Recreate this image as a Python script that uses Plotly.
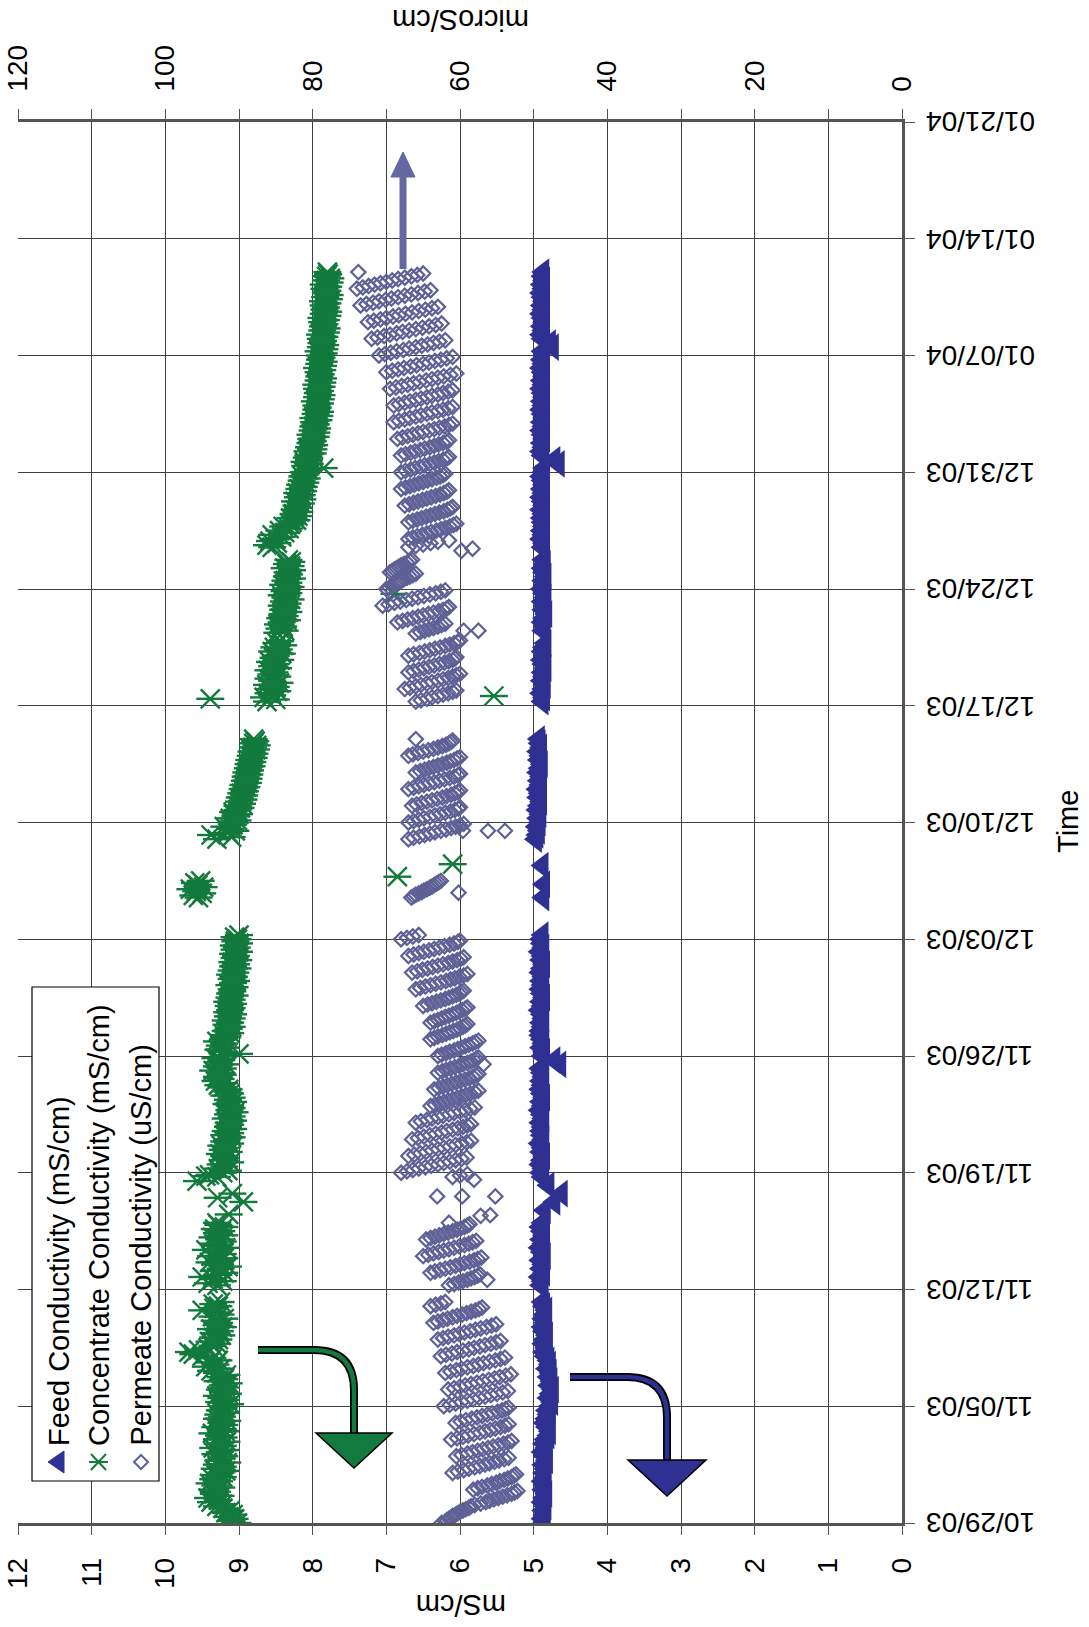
import pandas as pd
import plotly.graph_objects as go

# ---------------- data ----------------
# Run segments of the logger; readings inside a segment are evenly spaced.
segment_starts = ["2003-10-29 00:00", "2003-11-12 06:00", "2003-11-18 18:00",
                  "2003-12-05 12:00", "2003-12-09 00:00", "2003-12-17 06:00",
                  "2003-12-26 12:00"]
FEED_STEP = "6h"
CONC_STEP = "3h"
PERM_STEP = "2h"

# Feed conductivity, mS/cm (6-hourly)
feed_segments = [
    [4.86, 4.88, 4.85, 4.87, 4.84, 4.88, 4.86, 4.83, 4.87, 4.85, 4.88, 4.84,
     4.86, 4.84, 4.87, 4.82, 4.85, 4.88, 4.83, 4.86, 4.84, 4.80, 4.78, 4.82, 4.85, 4.83, 4.80, 4.82,
     4.78, 4.75, 4.80, 4.77, 4.74, 4.79, 4.76, 4.80, 4.77, 4.82, 4.78, 4.80,
     4.84, 4.86, 4.83, 4.87, 4.85, 4.82, 4.86, 4.88, 4.84, 4.87, 4.85, 4.83, 4.86, 4.88],
    [4.90, 4.88, 4.92, 4.86, 4.90, 4.87, 4.91, 4.85, 4.89, 4.92, 4.87, 4.90, 4.86, 4.89, 4.91, 4.88],
    [4.88, 4.90, 4.87, 4.91, 4.89, 4.86, 4.90, 4.88, 4.92, 4.87, 4.89,
     4.90, 4.88, 4.91, 4.87, 4.89, 4.92, 4.88, 4.90, 4.86, 4.89, 4.91, 4.88,
     4.90, 4.87, 4.89, 4.91, 4.64, 4.72, 4.88, 4.86, 4.90, 4.87, 4.89, 4.91,
     4.91, 4.88, 4.90, 4.87, 4.89, 4.92, 4.88, 4.90, 4.86, 4.89, 4.91,
     4.88, 4.90, 4.87, 4.91, 4.89, 4.86, 4.90, 4.88, 4.92, 4.87, 4.89, 4.90, 4.88],
    [],
    [4.97, 4.95, 4.93, 4.96, 4.92, 4.94, 4.91, 4.95, 4.93, 4.90, 4.94, 4.92, 4.95,
     4.91, 4.93, 4.90, 4.94, 4.92, 4.89, 4.93, 4.91, 4.94, 4.90, 4.92, 4.93],
    [4.88, 4.86, 4.90, 4.87, 4.85, 4.89, 4.86, 4.88, 4.84, 4.87, 4.89, 4.85, 4.88, 4.86, 4.84,
     None, None,
     4.87, 4.85, 4.88, 4.86, 4.83, 4.87, 4.85, 4.88, 4.84, 4.86, 4.89, 4.85, 4.87, 4.84, 4.86,
     4.88, 4.85, 4.87],
    [4.88, 4.86, 4.90, 4.87, 4.89, 4.86, 4.88,
     4.89, 4.87, 4.90, 4.86, 4.88, 4.90, 4.87, 4.89, 4.86, 4.88, 4.90, 4.87,
     4.86, 4.66, 4.72, 4.88, 4.90, 4.87, 4.89, 4.86, 4.88, 4.90, 4.87, 4.89, 4.86,
     4.88, 4.90, 4.87, 4.89, 4.86, 4.88, 4.90, 4.87, 4.89, 4.86, 4.88, 4.90, 4.87, 4.89, 4.86, 4.88,
     4.74, 4.78, 4.88, 4.90, 4.87, 4.89, 4.86, 4.88, 4.90, 4.87, 4.89, 4.86, 4.88, 4.90, 4.87,
     4.89, 4.86, 4.88, 4.87],
]
feed_extra_times = ["2003-11-16 18:00", "2003-11-17 06:00", "2003-11-17 18:00", "2003-11-18 06:00",
                    "2003-12-05 12:00", "2003-12-06 07:00", "2003-12-07 10:00"]
feed_extra_values = [4.85, 4.72, 4.62, 4.80, 4.87, 4.86, 4.88]

# Concentrate conductivity, mS/cm (3-hourly)
conc_segments = [
    [9.02, 9.10, 9.06, 9.14, 9.08, 9.18, 9.12, 9.22,
     9.30, 9.22, 9.38, 9.28, 9.42, 9.25, 9.34, 9.30,
     9.36, 9.24, 9.32, 9.40, 9.27, 9.35, 9.22, 9.31,
     9.25, 9.18, 9.33, 9.22, 9.30, 9.16, 9.28, 9.24,
     9.20, 9.32, 9.26, 9.18, 9.35, 9.22, 9.29, 9.17,
     9.30, 9.21, 9.27, 9.36, 9.19, 9.25, 9.32, 9.20,
     9.24, 9.16, 9.30, 9.23, 9.28, 9.18, 9.26, 9.21,
     9.20, 9.12, 9.27, 9.18, 9.24, 9.30, 9.15, 9.22,
     9.26, 9.18, 9.22, 9.14, 9.29, 9.20, 9.25, 9.17,
     9.30, 9.38, 9.25, 9.45, 9.32, 9.40, 9.28, 9.36,
     9.50, 9.62, 9.68, 9.55, 9.42, 9.36, 9.30, 9.40,
     9.28, 9.35, 9.24, 9.32, 9.26, 9.38, 9.22, 9.30,
     9.27, 9.33, 9.20, 9.36, 9.25, 9.30, 9.50, 9.34,
     9.28, 9.35, 9.25],
    [9.30, 9.42, 9.22, 9.35, 9.50, 9.28, 9.20, 9.33, 9.25, 9.15, 9.32, 9.40, 9.26, 9.20, 9.38,
     9.22, 9.30, 9.45, 9.18, 9.28, 9.34, 9.22, 9.27, 9.36, 9.20, 9.30, 9.24, 9.33, 9.20, 9.28, 9.30],
    [9.30, 9.40,
     9.22, 9.15, 9.28, 9.20, 9.25, 9.12, 9.22, 9.18,
     9.20, 9.26, 9.14, 9.22, 9.17, 9.24, 9.12, 9.20,
     9.16, 9.10, 9.20, 9.12, 9.18, 9.08, 9.15, 9.12,
     9.14, 9.08, 9.18, 9.10, 9.15, 9.06, 9.13, 9.10,
     9.12, 9.17, 9.08, 9.15, 9.10, 9.20, 9.12, 9.16,
     9.14, 9.22, 9.28, 9.20, 9.32, 9.25, 9.30, 9.22,
     9.26, 9.35, 9.22, 9.30, 9.18, 9.28, 9.24, 9.32,
     9.20, 9.00, 9.22, 9.28, 9.18, 9.26, 9.20, 9.30,
     9.22, 9.16, 9.20, 9.12, 9.18, 9.14, 9.10, 9.17,
     9.12, 9.18, 9.10, 9.15, 9.08, 9.16, 9.12, 9.10,
     9.14, 9.08, 9.16, 9.10, 9.13, 9.06, 9.12, 9.09,
     9.10, 9.06, 9.13, 9.08, 9.04, 9.10, 9.07, 9.12,
     9.05, 9.10, 9.02, 9.08, 9.04, 9.09, 9.01, 9.06,
     9.04, 9.08, 9.00, 9.06, 9.03, 9.07, 9.00, 9.05,
     9.02, 9.06, 9.00],
    [9.55, 9.62, 9.50, 9.58, 9.66, 9.48, 9.56, 9.60, 9.52],
    [9.30, 9.10, 9.38, 9.15, 9.05, 9.12, 9.20, 9.08,
     9.10, 9.02, 9.12, 9.05, 9.00, 9.08, 9.02, 8.98,
     9.02, 8.96, 9.00, 8.94, 8.99, 8.93, 8.97, 8.92,
     8.95, 8.90, 8.94, 8.88, 8.92, 8.87, 8.91, 8.86,
     8.90, 8.85, 8.88, 8.83, 8.87, 8.82, 8.86, 8.80,
     8.84, 8.79, 8.83, 8.77, 8.81, 8.76, 8.80, 8.78,
     8.80],
    [8.62, 8.50, 8.66, 8.55, 8.60, 8.48,
     8.58, 8.50, 8.62, 8.45, 8.55, 8.60, 8.48, 8.56,
     8.52, 8.60, 8.47, 8.55, 8.50, 8.58, 8.44, 8.53,
     8.50, 8.42, 8.55, 8.46, 8.52, 8.40, 8.48, 8.44,
     None, None, None, 8.48, 8.38, 8.45, 8.40, 8.47,
     8.42, 8.35, 8.44, 8.38, 8.41, 8.33, 8.40, 8.36,
     8.42, 8.34, 8.39, 8.30, 8.37, 8.42, 8.33, 8.38,
     8.36, 8.30, 8.40, 8.33, 8.37, 8.28, 8.35, 8.32,
     8.34, 8.28, 8.38, 8.30, 8.35, 8.29, 8.33],
    [8.55, 8.62, 8.48, 8.58,
     8.50, 8.42, 8.55, 8.38, 8.45, 8.32, 8.40, 8.30,
     8.28, 8.22, 8.30, 8.20, 8.26, 8.18, 8.24, 8.20,
     8.22, 8.16, 8.24, 8.14, 8.20, 8.15, 8.21, 8.13,
     8.18, 8.12, 8.17, 8.10, 8.15, 8.08, 8.14, 8.10,
     8.12, 8.06, 7.85, 8.10, 8.04, 8.11, 8.05, 8.08,
     8.06, 8.00, 8.07, 7.99, 8.05, 7.98, 8.03, 8.00,
     8.02, 7.96, 8.03, 7.95, 8.00, 7.94, 7.99, 7.96,
     7.98, 7.92, 7.99, 7.91, 7.96, 7.90, 7.95, 7.93,
     7.95, 7.90, 7.97, 7.89, 7.94, 7.88, 7.93, 7.90,
     7.94, 7.88, 7.95, 7.87, 7.92, 7.86, 7.91, 7.89,
     7.92, 7.87, 7.94, 7.86, 7.91, 7.85, 7.90, 7.88,
     7.90, 7.85, 7.92, 7.84, 7.89, 7.83, 7.88, 7.86,
     7.89, 7.84, 7.90, 7.82, 7.87, 7.81, 7.86, 7.84,
     7.87, 7.82, 7.88, 7.80, 7.85, 7.79, 7.84, 7.82,
     7.85, 7.80, 7.86, 7.78, 7.83, 7.77, 7.82, 7.80,
     7.84, 7.79, 7.85, 7.77, 7.82, 7.76, 7.81, 7.79,
     7.80],
]
conc_extra_times = ["2003-11-16 12:00", "2003-11-17 06:00", "2003-11-17 12:00", "2003-11-17 18:00",
                    "2003-11-18 12:00", "2003-11-18 19:00", "2003-12-06 18:00", "2003-12-07 12:00",
                    "2003-12-17 10:00", "2003-12-17 14:00", "2003-12-23 17:00"]
conc_extra_values = [9.14, 8.94, 9.29, 9.09, 9.57, 9.45, 6.85, 6.10, 9.39, 5.54, 6.89]

# Permeate conductivity, uS/cm (2-hourly, daily cycle)
perm_segments = [
    [62.5, 62, 61.8, 61.5, 61.2, 61, 60.6, 60.3, 60, 59.6, 59.2, 58.8,
     58.5, 58, 57.2, 56.5, 56, 55.4, 54.8, 54.2, 53.6, 53, 52.6, 52.2,
     58.2, 57.6, 57, 56.3, 55.7, 55.1, 54.6, 54, 53.5, 53, 52.7, 52.4,
     61, 60.3, 59.5, 58.8, 58, 57.3, 56.6, 56, 55.3, 54.7, 54, 53.4,
     60.5, 59.8, 59, 58.3, 57.6, 56.9, 56.2, 55.5, 54.8, 54.1, 53.5, 53,
     61.2, 60.4, 59.6, 58.9, 58.1, 57.3, 56.6, 55.9, 55.2, 54.5, 53.9, 53.4,
     60.6, 59.9, 59.2, 58.4, 57.7, 57, 56.3, 55.6, 54.9, 54.3, 53.8, 53.4,
     62.2, 61.4, 60.6, 59.8, 59, 58.2, 57.4, 56.6, 55.8, 55, 54.2, 53.5,
     61.6, 60.8, 60, 59.3, 58.5, 57.7, 56.9, 56.1, 55.3, 54.6, 53.8, 53.1,
     62, 61.3, 60.5, 59.8, 59, 58.2, 57.5, 56.8, 56, 55.2, 54.5, 53.9,
     62.6, 61.9, 61.1, 60.4, 59.6, 58.8, 58.1, 57.3, 56.6, 55.8, 55.1, 54.5,
     63, 62.3, 61.6, 60.8, 60.1, 59.4, 58.6, 57.9, 57.2, 56.4, 55.7, 55.1,
     63.6, 63, 62.3, 61.7, 61, 60.4, 59.7, 59.1, 58.5, 57.9, 57.4, 57,
     64, 63.3, 62.6, 62],
    [61.5, 60.8, 60.2, 59.6, 59, 58.5, 58, 57.6, 57.3,
     64, 63.4, 62.7, 62, 61.3, 60.6, 60, 59.4, 58.7, 58.1, 57.6, 57.1,
     65, 64.3, 63.6, 62.9, 62.2, 61.5, 60.8, 60.1, 59.4, 58.8, 58.3, 57.8,
     64.6, 64, 63.4, 62.8, 62.2, 61.6, 61, 60.4, 59.9, 59.4, 59, 58.7,
     61.5],
    [61, 60, 59,
     68, 67.2, 66.4, 65.6, 64.7, 63.9, 63, 62.2, 61.4, 60.6, 59.8, 59.1,
     67, 66.2, 65.4, 64.6, 63.8, 63, 62.2, 61.4, 60.6, 59.8, 59.1, 58.5,
     66.5, 65.7, 64.9, 64.1, 63.3, 62.5, 61.8, 61, 60.3, 59.6, 59, 58.5,
     66, 65.3, 64.5, 63.8, 63, 62.3, 61.5, 60.8, 60, 59.3, 58.6, 58,
     64, 63.4, 62.8, 62.2, 61.6, 61, 60.4, 59.8, 59.2, 58.6, 58, 57.5,
     63.5, 62.9, 62.3, 61.7, 61.1, 60.5, 59.9, 59.3, 58.7, 58.2, 57.8, 57.5,
     63, 62.4, 61.9, 61.3, 60.7, 60.1, 59.6, 59, 58.5, 58.1, 57.8, 57.5,
     63, 62.5, 61.9, 61.4, 60.8, 60.3, 59.8, 59.3, 58.8, 58.3, 57.9, 57.5,
     64, 63.5, 63, 62.4, 61.9, 61.4, 60.9, 60.4, 60, 59.6, 59.3, 59,
     64, 63.5, 63, 62.5, 62, 61.5, 61, 60.5, 60.1, 59.7, 59.3, 59,
     65, 64.4, 63.8, 63.2, 62.6, 62, 61.5, 61, 60.5, 60.1, 59.8, 59.5,
     66, 65.4, 64.7, 64, 63.3, 62.6, 61.9, 61.3, 60.7, 60.1, 59.5, 59,
     66.5, 65.8, 65.1, 64.4, 63.7, 63, 62.3, 61.6, 61, 60.4, 59.9, 59.5,
     67, 66.3, 65.6, 64.9, 64.2, 63.5, 62.8, 62.1, 61.4, 60.8, 60.3, 60,
     68, 67.2, 66.4, 65.6],
    [66.6, 66.3, 66, 65.6, 65.2, 64.9, 64.5, 64.1, 63.8, 63.5, 63.2, 62.9, 62.6],
    [67, 66.3, 65.5, 64.8, 64.1, 63.4, 62.6, 61.9, 61.2, 60.6, 60, 59.5,
     67, 66.3, 65.6, 64.9, 64.1, 63.4, 62.7, 62, 61.3, 60.7, 60.2, 60,
     66.5, 65.9, 65.2, 64.5, 63.8, 63.1, 62.4, 61.8, 61.2, 60.7, 60.3, 60,
     67, 66.3, 65.6, 64.9, 64.2, 63.5, 62.8, 62.1, 61.4, 60.8, 60.3, 60,
     66, 65.4, 64.8, 64.2, 63.6, 63, 62.4, 61.8, 61.3, 60.8, 60.4, 60,
     67, 66.4, 65.7, 65, 64.3, 63.6, 63, 62.4, 61.9, 61.5, 61.2, 61,
     66],
    [66, 65.3, 64.5, 63.8, 63, 62.3, 61.6, 61, 60.5,
     67.5, 66.8, 66, 65.3, 64.5, 63.8, 63, 62.3, 61.6, 61, 60.5, 60,
     67, 66.3, 65.6, 64.9, 64.2, 63.5, 62.8, 62.1, 61.5, 61, 60.7, 60.5,
     67, 66.3, 65.5, 64.8, 64.1, 63.4, 62.7, 62, 61.4, 60.8, 60.3, 60,
     None, None, None, None, 66, 65.4, 64.8, 64.2, 63.6, 63, 62.5, 62,
     68.5, 67.8, 67.1, 66.4, 65.7, 65, 64.3, 63.6, 62.9, 62.3, 61.8, 61.5,
     70.5, 69.7, 68.9, 68.1, 67.3, 66.5, 65.7, 64.9, 64.1, 63.3, 62.6, 62,
     70, 69.6, 69.2, 68.8, 68.5, 68.2, 67.9, 67.6, 67.2, 66.8, 66.4, 66,
     69.5, 69.2, 68.9, 68.6, 68.3, 68, 67.6, 67.2, 66.8, 66.5],
    [67, 66, 65, 64, 63, 61.5,
     67, 66.4, 65.8, 65.1, 64.5, 63.9, 63.2, 62.6, 62, 61.4, 60.9, 60.5,
     67, 66.4, 65.8, 65.2, 64.6, 64, 63.4, 62.8, 62.2, 61.7, 61.3, 61,
     67.5, 66.9, 66.3, 65.7, 65.1, 64.5, 63.9, 63.3, 62.7, 62.2, 61.8, 61.5,
     68, 67.4, 66.8, 66.2, 65.6, 65, 64.4, 63.8, 63.2, 62.7, 62.3, 62,
     68, 67.4, 66.7, 66.1, 65.4, 64.8, 64.1, 63.5, 62.9, 62.3, 61.8, 61.5,
     68, 67.4, 66.7, 66.1, 65.4, 64.8, 64.1, 63.5, 62.9, 62.3, 61.8, 61.5,
     68.5, 67.8, 67.1, 66.4, 65.7, 65, 64.2, 63.5, 62.8, 62.1, 61.5, 61,
     69, 68.3, 67.5, 66.8, 66, 65.3, 64.5, 63.8, 63, 62.3, 61.6, 61,
     69, 68.3, 67.5, 66.8, 66, 65.3, 64.5, 63.8, 63, 62.3, 61.6, 61,
     69.5, 68.7, 67.9, 67.1, 66.3, 65.5, 64.6, 63.8, 63, 62.2, 61.3, 60.5,
     70, 69.2, 68.4, 67.6, 66.7, 65.9, 65, 64.2, 63.4, 62.6, 61.8, 61,
     71, 70.2, 69.4, 68.6, 67.7, 66.9, 66, 65.2, 64.4, 63.6, 62.8, 62,
     72, 71.2, 70.3, 69.5, 68.6, 67.8, 66.9, 66, 65.1, 64.2, 63.3, 62.5,
     72.5, 71.7, 70.8, 70, 69.1, 68.3, 67.4, 66.5, 65.6, 64.7, 63.8, 63,
     73.5, 72.7, 71.8, 71, 70.1, 69.3, 68.4, 67.5, 66.6, 65.7, 64.8, 64,
     74, 73.2, 72.4, 71.6, 70.8, 70, 69.2, 68.4, 67.5, 66.6, 65.8, 65,
     73.8],
]
perm_extra_times = ["2003-11-12 14:00", "2003-11-16 10:00", "2003-11-16 11:00", "2003-11-17 14:00",
                    "2003-11-17 14:00", "2003-11-17 14:00", "2003-11-18 14:00", "2003-11-25 12:00",
                    "2003-12-05 19:00", "2003-12-09 12:00", "2003-12-09 12:00", "2003-12-09 12:00",
                    "2003-12-21 12:00", "2003-12-21 12:00", "2003-12-26 07:00", "2003-12-26 10:00"]
perm_extra_values = [56.3, 57.2, 55.9, 63.1, 59.7, 55.2, 58.1, 56.8,
                     60.2, 59.6, 56.2, 53.9, 59.5, 57.5, 59.8, 58.3]

series_names = ["Feed Conductivity (mS/cm)", "Concentrate Conductivity (mS/cm)",
                "Permeate Conductivity (uS/cm)"]
time_range = ["2003-10-29", "2004-01-21"]


def expand(segments, step, extra_times, extra_values):
    """Turn the sampled run segments plus spot readings into time/value lists."""
    times, values = [], []
    for start, seg in zip(segment_starts, segments):
        if seg:
            times.extend(pd.date_range(start, periods=len(seg), freq=step))
            values.extend(seg)
    times.extend(pd.to_datetime(extra_times))
    values.extend(extra_values)
    return times, values


# ---------------- styling ----------------
FONT = "Liberation Sans, Arial, sans-serif"
FEED_C = "#2E3192"
CONC_C = "#127A3C"
PERM_C = "#5F6096"
ARROW_C = "#6467A0"
GRID_C = "#404040"
AXIS_C = "#555555"

W, H = 1089, 1627
L, R, T, B = 18, 902, 122, 1523   # plot area in pixels


def px(x, y):
    return (x - L) / (R - L), (B - y) / (B - T)


def path_str(cmds):
    out = []
    for cmd, pts in cmds:
        coords = []
        for (x, y) in pts:
            u, v = px(x, y)
            coords.append(f"{u:.5f},{v:.5f}")
        out.append(cmd + " ".join(coords))
    return " ".join(out)


fig = go.Figure()

t, v = expand(feed_segments, FEED_STEP, feed_extra_times, feed_extra_values)
fig.add_trace(go.Scatter(x=v, y=t, mode="markers", name=series_names[0],
                         marker=dict(symbol="triangle-left", size=24, color=FEED_C,
                                     line=dict(width=0))))

t, v = expand(conc_segments, CONC_STEP, conc_extra_times, conc_extra_values)
fig.add_trace(go.Scatter(x=v, y=t, mode="markers", name=series_names[1],
                         marker=dict(symbol="x-thin-open", size=19, color=CONC_C,
                                     line=dict(width=2.4, color=CONC_C))))
fig.add_trace(go.Scatter(x=v, y=t, mode="markers", showlegend=False, hoverinfo="skip",
                         marker=dict(symbol="line-ew-open", size=20, color=CONC_C,
                                     line=dict(width=2.4, color=CONC_C))))

t, v = expand(perm_segments, PERM_STEP, perm_extra_times, perm_extra_values)
fig.add_trace(go.Scatter(x=v, y=t, mode="markers", name=series_names[2], xaxis="x2",
                         marker=dict(symbol="diamond-open", size=11, color=PERM_C,
                                     line=dict(width=2.2, color=PERM_C))))

tick_font = dict(family=FONT, size=28, color="black")
fig.update_layout(
    width=W, height=H,
    margin=dict(l=L, r=W - R, t=T, b=H - B, pad=0, autoexpand=False),
    paper_bgcolor="white", plot_bgcolor="white",
    showlegend=False,
    font=dict(family=FONT, size=28, color="black"),
    xaxis=dict(range=[12, 0], tickmode="linear", tick0=0, dtick=1, tickangle=-90,
               ticks="outside", ticklen=9, tickcolor=AXIS_C, tickfont=tick_font,
               ticklabelstandoff=12, automargin=False,
               showgrid=True, gridcolor=GRID_C, gridwidth=1, zeroline=False,
               showline=True, linecolor=AXIS_C, linewidth=2.5),
    xaxis2=dict(overlaying="x", side="top", anchor="y", range=[120, 0],
                tickmode="linear", tick0=0, dtick=20, tickangle=-90,
                ticks="outside", ticklen=10, tickcolor=AXIS_C, tickfont=tick_font,
                ticklabelstandoff=12, automargin=False,
                minor=dict(dtick=10, ticks="outside", ticklen=10, tickcolor=AXIS_C,
                           showgrid=False),
                showgrid=False, zeroline=False,
                showline=True, linecolor=AXIS_C, linewidth=2.5),
    yaxis=dict(type="date", range=time_range, side="right",
               tickmode="linear", tick0=time_range[0], dtick=7 * 86400000,
               showticklabels=False, automargin=False,
               ticks="outside", ticklen=10, tickcolor=AXIS_C,
               showgrid=True, gridcolor=GRID_C, gridwidth=1, zeroline=False,
               showline=True, linecolor=AXIS_C, linewidth=2.5),
)

shapes = []


def curved_arrow(x0, y0, xc, head_half, head_top, head_tip, fill):
    shaft = path_str([("M", [(x0, y0)]), ("L", [(xc - 40, y0)]),
                      ("Q", [(xc, y0), (xc, y0 + 40)]), ("L", [(xc, head_top + 2)])])
    shapes.append(dict(type="path", path=shaft, xref="paper", yref="paper",
                       line=dict(color="black", width=8)))
    shapes.append(dict(type="path", path=shaft, xref="paper", yref="paper",
                       line=dict(color=fill, width=4.5)))
    head = path_str([("M", [(xc - head_half, head_top)]), ("L", [(xc + head_half, head_top)]),
                     ("L", [(xc, head_tip)])]) + " Z"
    shapes.append(dict(type="path", path=head, xref="paper", yref="paper",
                       fillcolor=fill, line=dict(color="black", width=1.5)))


# curved arrows toward the mS/cm axis
curved_arrow(258, 1350, 354, 38, 1433, 1468, CONC_C)
curved_arrow(570, 1377, 667, 39, 1460, 1496, FEED_C)

# straight arrow toward the uS/cm axis
shapes.append(dict(type="path", path=path_str([("M", [(403, 269)]), ("L", [(403, 175)])]),
                   xref="paper", yref="paper", line=dict(color=ARROW_C, width=7)))
shapes.append(dict(type="path",
                   path=path_str([("M", [(391, 177)]), ("L", [(415, 177)]), ("L", [(403, 152)])]) + " Z",
                   xref="paper", yref="paper", fillcolor=ARROW_C, line=dict(color=ARROW_C, width=1)))

# legend box with its symbols
bx0, by0 = px(32, 1481)
bx1, by1 = px(159, 987)
shapes.append(dict(type="rect", xref="paper", yref="paper", x0=bx0, y0=by0, x1=bx1, y1=by1,
                   fillcolor="white", line=dict(color="black", width=1.2)))
shapes.append(dict(type="path", xref="paper", yref="paper",
                   path=path_str([("M", [(48, 1462)]), ("L", [(64, 1451)]), ("L", [(64, 1473)])]) + " Z",
                   fillcolor=FEED_C, line=dict(color=FEED_C, width=1)))
for (a, b2) in [((91, 1454), (106, 1470)), ((91, 1470), (106, 1454)), ((89, 1462), (108, 1462))]:
    shapes.append(dict(type="path", xref="paper", yref="paper",
                       path=path_str([("M", [a]), ("L", [b2])]),
                       line=dict(color=CONC_C, width=2)))
shapes.append(dict(type="path", xref="paper", yref="paper",
                   path=path_str([("M", [(141, 1455)]), ("L", [(148, 1462)]), ("L", [(141, 1469)]),
                                  ("L", [(134, 1462)])]) + " Z",
                   line=dict(color=PERM_C, width=2)))

fig.update_layout(shapes=shapes)

annotations = []
for name, cx in zip(series_names, [59, 99, 140]):
    ax_, ay_ = px(cx, 1448)
    annotations.append(dict(text=name, x=ax_, y=ay_, xref="paper", yref="paper",
                            xanchor="center", yanchor="bottom", textangle=-90,
                            showarrow=False, font=dict(family=FONT, size=29, color="black")))

# upside-down date labels beside the weekly ticks of the time axis
label_x, _ = px(924, 0)
for d in pd.date_range(time_range[0], time_range[1], freq="7D"):
    annotations.append(dict(text=d.strftime("%m/%d/%y"), x=label_x, y=d.strftime("%Y-%m-%d"),
                            xref="paper", yref="y", xanchor="left", yanchor="middle",
                            textangle=180, showarrow=False, font=tick_font))

for text, (x, y), ang in [("microS/cm", (461, 20), 180), ("mS/cm", (461, 1605), 180),
                          ("Time", (1068, 822), -90)]:
    ax_, ay_ = px(x, y)
    annotations.append(dict(text=text, x=ax_, y=ay_, xref="paper", yref="paper",
                            xanchor="center", yanchor="middle", textangle=ang,
                            showarrow=False, font=dict(family=FONT, size=29, color="black")))

fig.update_layout(annotations=annotations)

fig.write_html("out.html")
